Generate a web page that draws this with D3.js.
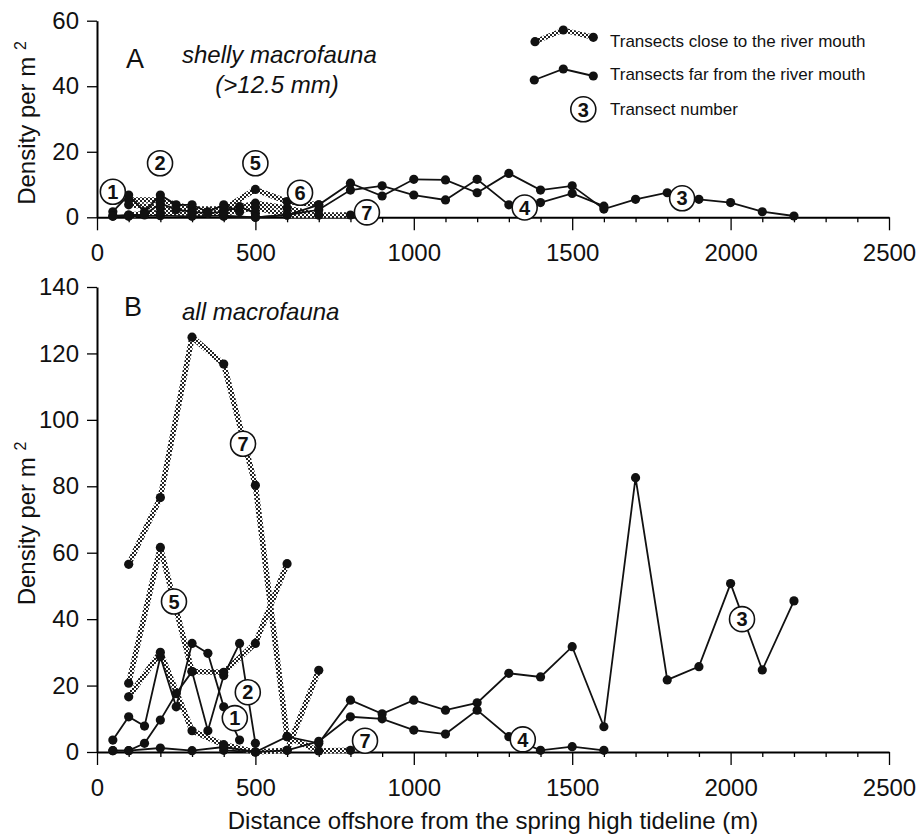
<!DOCTYPE html>
<html>
<head>
<meta charset="utf-8">
<script src="https://cdn.jsdelivr.net/npm/d3@7/dist/d3.min.js"></script>
<style>
  body { margin: 0; background: #fff; }
  text { font-family: Arial, 'Liberation Sans', sans-serif; fill: #111; }
</style>
</head>
<body>
<div id="chart"></div>
<script>
// panel A : shelly macrofauna (>12.5 mm), [distance m, density per m2]
const shellyT1 = [[50,1.7],[100,6.8],[150,1.7],[200,6.8],[250,3.8],[300,3.8],[350,1.7],[400,3.8],[450,1.7]];
const shellyT2 = [[50,0.4],[100,0.7],[150,0.7],[200,4.3],[250,2.3],[300,1.7],[350,1.2],[400,1.7],[450,3.3],[500,1.2]];
const shellyT3 = [[50,0.3],[100,0.3],[200,0.5],[300,0.3],[400,0.5],[500,0],[600,0.7],[700,3.8],[800,10.4],[900,6.5],[1000,11.6],[1100,11.4],[1200,7.5],[1300,13.4],[1400,8.3],[1500,9.6],[1600,2.5],[1700,5.5],[1800,7.5],[1900,5.5],[2000,4.5],[2100,1.7],[2200,0.4]];
const shellyT4 = [[400,0.3],[500,0],[600,0.7],[700,2.3],[800,8.3],[900,9.6],[1000,6.8],[1100,5.3],[1200,11.6],[1300,3.8],[1400,4.5],[1500,7.3],[1600,3.4]];
const shellyT5 = [[100,5.3],[200,5.3],[300,2.5],[400,2.5],[500,8.5],[600,4.8],[700,3.8]];
const shellyT6 = [[100,3.8],[200,3],[300,1.7],[400,1.7],[500,4.3],[600,2.8],[700,0.7]];
const shellyT7 = [[100,0.7],[200,1.5],[300,1.2],[400,1.2],[500,3],[600,0.7],[700,0.7],[800,0.7]];

// panel B : all macrofauna
const allT1 = [[50,3.6],[100,10.6],[150,7.8],[200,28.7],[250,13.6],[300,32.7],[350,29.7],[400,13.6],[450,3.6]];
const allT2 = [[50,0.4],[100,0.4],[150,2.6],[200,9.6],[250,17.6],[300,24.2],[350,6.4],[400,23],[450,32.7],[500,2.6]];
const allT3 = [[50,0.4],[100,0.4],[200,1.2],[300,0.4],[400,1.5],[500,0],[600,4.6],[700,2.6],[800,15.6],[900,11.5],[1000,15.6],[1100,12.6],[1200,14.8],[1300,23.7],[1400,22.6],[1500,31.7],[1600,7.6],[1700,82.6],[1800,21.7],[1900,25.7],[2000,50.7],[2100,24.7],[2200,45.5]];
const allT4 = [[400,0.5],[500,0],[600,0.5],[700,3.2],[800,10.6],[900,10],[1000,6.6],[1100,5.4],[1200,12.6],[1300,4.6],[1400,0.5],[1500,1.6],[1600,0.5]];
const allT5 = [[100,20.7],[200,61.6],[300,24.2],[400,24],[500,32.7],[600,56.7]];
const allT6 = [[100,16.6],[200,30],[300,6.4],[400,2.2],[500,0],[600,0.5],[700,24.6]];
const allT7 = [[100,56.5],[200,76.6],[300,124.9],[400,116.8],[500,80.3],[600,4.6],[700,0.3],[800,0.5]];

// transect number tags: [number, distance, density]
const shellyTags = [[1,50,7.8],[2,199,16.5],[5,500,16.5],[6,641,7.5],[7,852,1.5],[4,1350,3],[3,1847,5.8]];
const allTags = [[7,461,92.8],[5,243,45.3],[2,476,18],[1,435,10.2],[7,846,3.4],[4,1344,3.8],[3,2036,40]];

const closeTransects = [5, 6, 7];
const xTicks = d3.range(0, 2501, 100);
const yTicksA = [0, 20, 40, 60];
const yTicksB = [0, 20, 40, 60, 80, 100, 120, 140];

const svg = d3.select('#chart').append('svg')
  .attr('width', 917)
  .attr('height', 838);

// checkered "rope" stroke for transects close to the river mouth
const pat = svg.append('defs').append('pattern')
  .attr('id', 'hatch')
  .attr('patternUnits', 'userSpaceOnUse')
  .attr('width', 4).attr('height', 4);
pat.append('rect').attr('width', 4).attr('height', 4).attr('fill', '#fff');
pat.append('rect').attr('width', 2).attr('height', 2).attr('fill', '#222');
pat.append('rect').attr('x', 2).attr('y', 2).attr('width', 2).attr('height', 2).attr('fill', '#222');

const x = d3.scaleLinear().domain([0, 2500]).range([97, 889]);

function drawPanel(yScale, yTicks, series, tags) {
  const g = svg.append('g');

  const xAxis = g.append('g')
    .attr('transform', 'translate(0,' + yScale(0) + ')')
    .call(d3.axisBottom(x).tickValues(xTicks).tickSize(13).tickSizeOuter(0).tickPadding(14)
      .tickFormat(d => d % 500 === 0 ? d : ''));
  xAxis.selectAll('.tick line')
    .attr('y2', d => d % 500 === 0 ? 13 : 5)
    .attr('stroke-width', 1.3);
  xAxis.select('.domain').attr('stroke-width', 2);
  xAxis.selectAll('text').attr('font-size', 24).attr('font-family', null);

  const yAxis = g.append('g')
    .attr('transform', 'translate(' + x(0) + ',0)')
    .call(d3.axisLeft(yScale).tickValues(yTicks).tickSize(10).tickSizeOuter(0).tickPadding(8));
  yAxis.selectAll('.tick line').attr('stroke-width', 1.3);
  yAxis.select('.domain').attr('stroke-width', 2);
  yAxis.selectAll('text').attr('font-size', 24).attr('font-family', null);

  const line = d3.line()
    .x(d => x(d[0]))
    .y(d => yScale(d[1]));

  // close transects first, far ones on top
  series.filter(s => s.close).forEach(s => {
    g.append('path').datum(s.pts)
      .attr('fill', 'none')
      .attr('stroke', 'url(#hatch)')
      .attr('stroke-width', 5.5)
      .attr('stroke-linejoin', 'round')
      .attr('d', line);
  });
  series.filter(s => !s.close).forEach(s => {
    g.append('path').datum(s.pts)
      .attr('fill', 'none')
      .attr('stroke', '#111')
      .attr('stroke-width', 1.8)
      .attr('d', line);
  });
  series.forEach(s => {
    g.selectAll(null).data(s.pts).enter().append('circle')
      .attr('cx', d => x(d[0]))
      .attr('cy', d => yScale(d[1]))
      .attr('r', 4.6)
      .attr('fill', '#111');
  });

  const tag = g.selectAll(null).data(tags).enter().append('g')
    .attr('transform', d => 'translate(' + x(d[1]) + ',' + yScale(d[2]) + ')');
  tag.append('circle').attr('r', 12.5).attr('fill', '#fff').attr('stroke', '#111').attr('stroke-width', 1.6);
  tag.append('text')
    .attr('text-anchor', 'middle')
    .attr('dy', '0.36em')
    .attr('font-size', 20)
    .attr('font-weight', 'bold')
    .text(d => d[0]);

  // y axis title
  const mid = (yScale.range()[0] + yScale.range()[1]) / 2;
  const yt = g.append('text')
    .attr('transform', 'translate(35,' + (mid + 4) + ') rotate(-90)')
    .attr('text-anchor', 'middle')
    .attr('font-size', 24);
  yt.append('tspan').text('Density per m ');
  yt.append('tspan').attr('font-size', 16).attr('dy', -9).text('2');

  return g;
}

function makeSeries(arrs) {
  return arrs.map((pts, i) => ({ pts: pts, close: closeTransects.includes(i + 1) }));
}

const yA = d3.scaleLinear().domain([0, 60]).range([217.3, 20.7]);
const yB = d3.scaleLinear().domain([0, 140]).range([752, 287]);

const gA = drawPanel(yA, yTicksA,
  makeSeries([shellyT1, shellyT2, shellyT3, shellyT4, shellyT5, shellyT6, shellyT7]), shellyTags);
const gB = drawPanel(yB, yTicksB,
  makeSeries([allT1, allT2, allT3, allT4, allT5, allT6, allT7]), allTags);

// panel letters and titles
gA.append('text').attr('x', 126).attr('y', 68).attr('font-size', 27).text('A');
gA.append('text').attr('x', 182).attr('y', 63).attr('font-size', 24).attr('font-style', 'italic').text('shelly macrofauna');
gA.append('text').attr('x', 277).attr('y', 93).attr('font-size', 24).attr('font-style', 'italic')
  .attr('text-anchor', 'middle').text('(>12.5 mm)');

gB.append('text').attr('x', 124).attr('y', 316).attr('font-size', 27).text('B');
gB.append('text').attr('x', 182).attr('y', 320).attr('font-size', 24).attr('font-style', 'italic').text('all macrofauna');

svg.append('text')
  .attr('x', (x.range()[0] + x.range()[1]) / 2)
  .attr('y', 829)
  .attr('text-anchor', 'middle')
  .attr('font-size', 24)
  .text('Distance offshore from the spring high tideline (m)');

// legend
const legend = svg.append('g');
const legLine = d3.line();
const legClose = [[535, 41.7], [563.3, 30], [593.3, 37.3]];
const legFar = [[534.3, 80], [563.3, 69], [593.3, 76]];
legend.append('path').datum(legClose).attr('d', legLine)
  .attr('fill', 'none').attr('stroke', 'url(#hatch)').attr('stroke-width', 5);
legend.append('path').datum(legFar).attr('d', legLine)
  .attr('fill', 'none').attr('stroke', '#111').attr('stroke-width', 1.8);
legend.selectAll(null).data(legClose.concat(legFar)).enter().append('circle')
  .attr('cx', d => d[0]).attr('cy', d => d[1]).attr('r', 4.6).attr('fill', '#111');
const legTag = legend.append('g').attr('transform', 'translate(583.3,109.3)');
legTag.append('circle').attr('r', 12.5).attr('fill', '#fff').attr('stroke', '#111').attr('stroke-width', 1.6);
legTag.append('text').attr('text-anchor', 'middle').attr('dy', '0.36em')
  .attr('font-size', 20).attr('font-weight', 'bold').text('3');
legend.append('text').attr('x', 610).attr('y', 46.5).attr('font-size', 17).text('Transects close to the river mouth');
legend.append('text').attr('x', 610).attr('y', 80).attr('font-size', 17).text('Transects far from the river mouth');
legend.append('text').attr('x', 610).attr('y', 114.5).attr('font-size', 17).text('Transect number');
</script>
</body>
</html>
